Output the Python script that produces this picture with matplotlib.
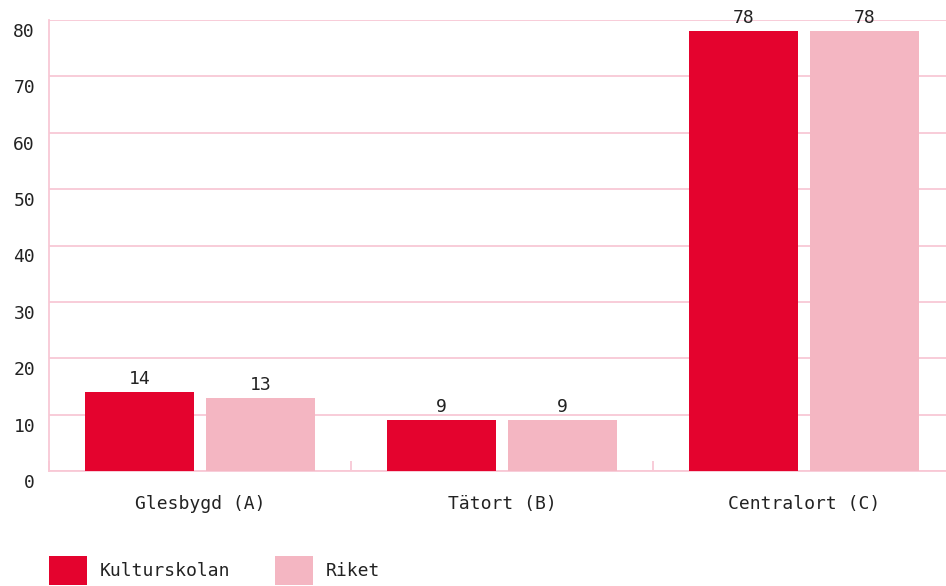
import matplotlib
matplotlib.use('Agg')
import matplotlib.pyplot as plt
import matplotlib.transforms as mtransforms
from matplotlib.patches import Patch
import numpy as np

# data
categories = ['Glesbygd (A)', 'Tätort (B)', 'Centralort (C)']
kulturskolan = [14, 9, 78]
riket = [13, 9, 78]
series_names = ['Kulturskolan', 'Riket']
yticks = [0, 10, 20, 30, 40, 50, 60, 70, 80]

red = '#E4032E'
pink = '#F4B6C2'
grid_col = '#F8C8D5'
text_col = '#222222'

plt.rcParams['font.family'] = ['DejaVu Sans Mono']
plt.rcParams['font.size'] = 13

fig = plt.figure(figsize=(9.46, 5.86), dpi=100)
W, H = 946, 586
ax = fig.add_axes([49 / W, 115 / H, 906 / W, 451 / H])

x = np.arange(len(categories))
bw = 0.361
off = 0.2
b1 = ax.bar(x - off, kulturskolan, bw, color=red, zorder=3)
b2 = ax.bar(x + off, riket, bw, color=pink, zorder=3)

# value labels above bars
for bars in (b1, b2):
    for rect in bars:
        ax.annotate(str(int(rect.get_height())),
                    (rect.get_x() + rect.get_width() / 2, rect.get_height()),
                    xytext=(0, 3), textcoords='offset points',
                    ha='center', va='bottom', color=text_col, fontsize=13,
                    annotation_clip=False, zorder=4)

ax.set_xlim(-0.5, 2.5)
ax.set_ylim(0, 80)

# y axis: grid + labels sitting just below each gridline
ax.set_yticks(yticks)
ax.set_yticklabels([str(v) for v in yticks])
ax.yaxis.grid(True, color=grid_col, linewidth=1.3, zorder=0)
ax.tick_params(axis='y', length=0, pad=10, colors=text_col, labelsize=13)
shift = mtransforms.ScaledTranslation(0, -0.10, fig.dpi_scale_trans)
for lab in ax.get_yticklabels():
    lab.set_transform(lab.get_transform() + shift)

# x axis: category labels, small inward ticks at group boundaries
ax.set_xticks(x)
ax.set_xticklabels(categories)
ax.tick_params(axis='x', which='major', length=0, pad=17, colors=text_col, labelsize=13)
ax.set_xticks([-0.5, 0.5, 1.5, 2.5], minor=True)
ax.tick_params(axis='x', which='minor', direction='in', length=7, width=1.3, color=grid_col)

for side in ['top', 'right']:
    ax.spines[side].set_visible(False)
for side in ['left', 'bottom']:
    ax.spines[side].set_color(grid_col)
    ax.spines[side].set_linewidth(1.3)

handles = [Patch(facecolor=red), Patch(facecolor=pink)]
fig.legend(handles, series_names, loc='lower left', bbox_to_anchor=(49 / W, 1 / H),
           ncol=2, frameon=False, borderpad=0, borderaxespad=0,
           handlelength=2.1, handleheight=2.1, handletextpad=0.72,
           columnspacing=2.45, fontsize=13, labelcolor=text_col)

plt.savefig('out.png', dpi=100)
